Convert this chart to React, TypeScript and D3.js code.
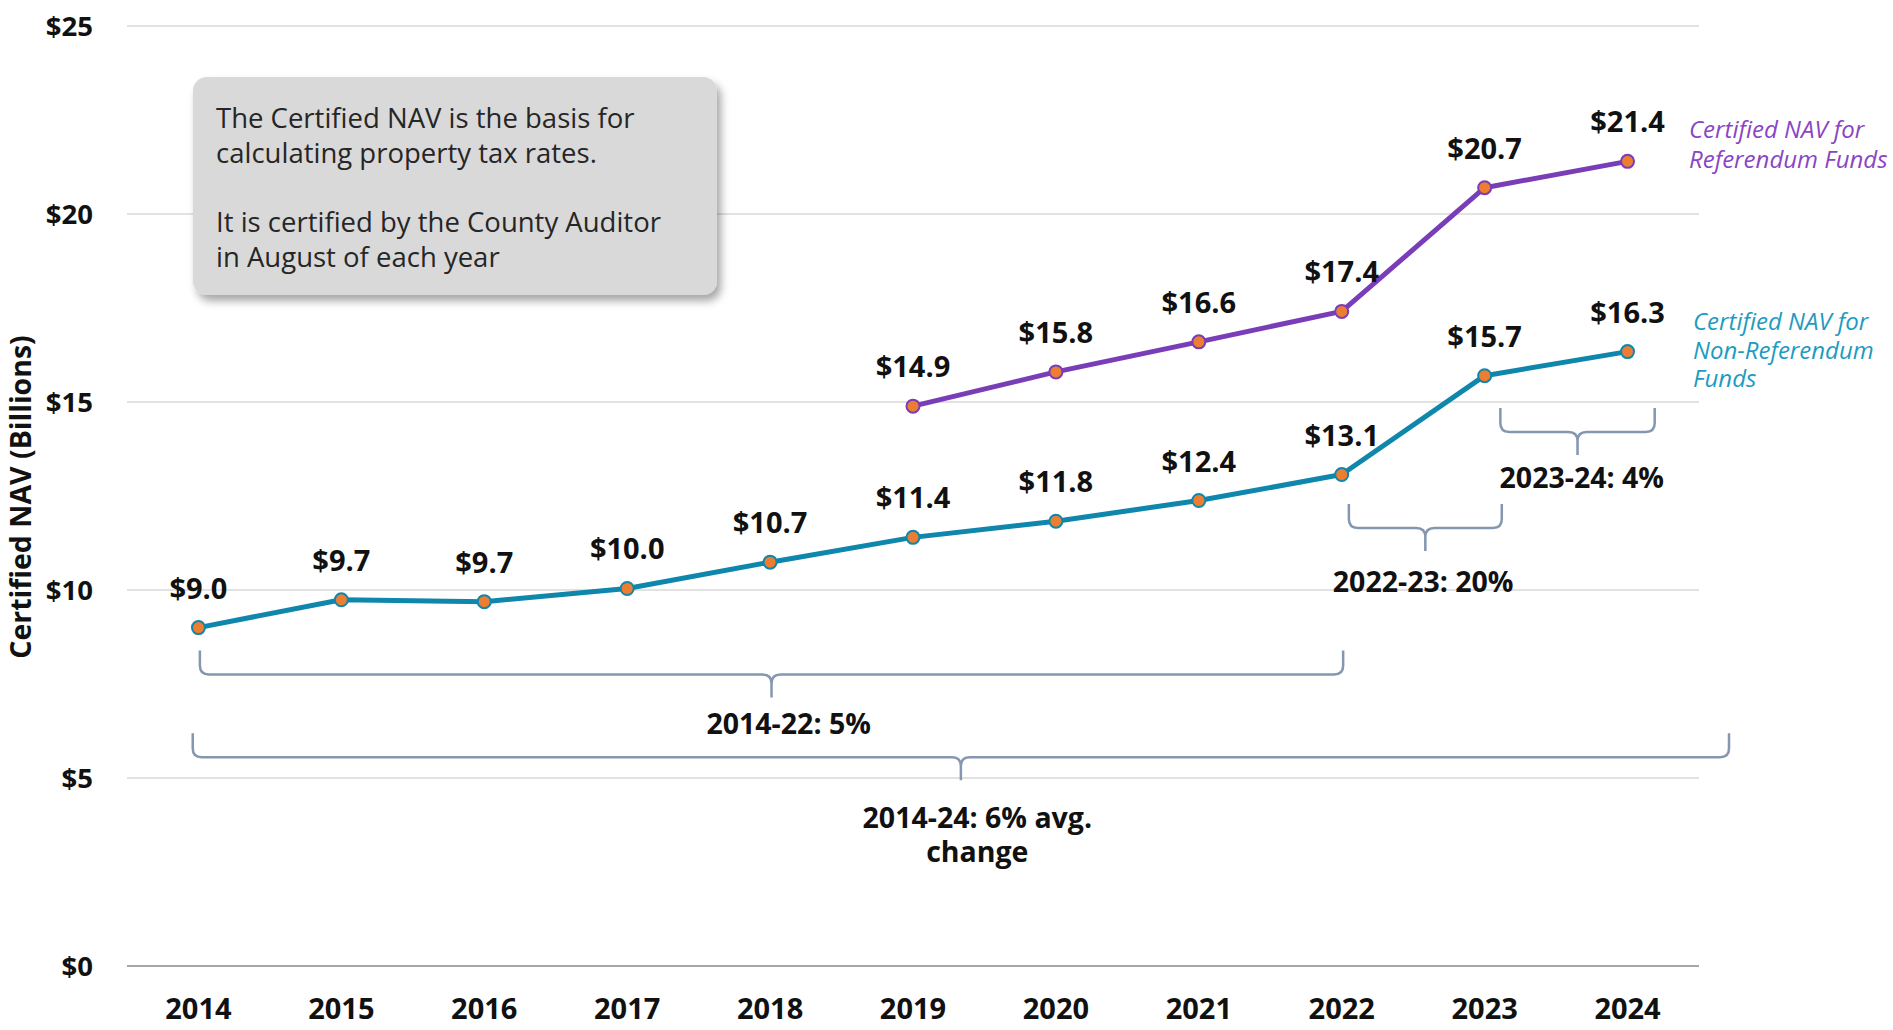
import React from 'react';
import * as d3 from 'd3';

// data (billions)
const years = [2014, 2015, 2016, 2017, 2018, 2019, 2020, 2021, 2022, 2023, 2024];
const nonReferendum = [9.0, 9.74, 9.69, 10.04, 10.74, 11.4, 11.83, 12.38, 13.07, 15.7, 16.34];
const referendumYears = [2019, 2020, 2021, 2022, 2023, 2024];
const referendum = [14.89, 15.8, 16.6, 17.41, 20.7, 21.4];
const yTicks = [0, 5, 10, 15, 20, 25];

const noteLines = [
  'The Certified NAV is the basis for',
  'calculating property tax rates.',
  '',
  'It is certified by the County Auditor',
  'in August of each year',
];
const referendumLabel = ['Certified NAV for', 'Referendum Funds'];
const nonReferendumLabel = ['Certified NAV for', 'Non-Referendum', 'Funds'];

// growth braces: span in years, level in $B, label centre in years
const brackets = [
  { from: 2014.01, to: 2022.01, level: 7.75, label: ['2014-22: 5%'], labelAt: 2018.13, dy: 59 },
  { from: 2013.96, to: 2024.71, level: 5.55, label: ['2014-24: 6% avg.', 'change'], labelAt: 2019.45, dy: 71 },
  { from: 2022.05, to: 2023.12, level: 11.65, label: ['2022-23: 20%'], labelAt: 2022.57, dy: 64 },
  { from: 2023.11, to: 2024.19, level: 14.2, label: ['2023-24: 4%'], labelAt: 2023.68, dy: 56 },
];

const W = 1893;
const H = 1030;
const TEAL = '#0f86ab';
const PURPLE = '#7a3db8';
const ORANGE = '#ed7d31';
const FONT = '"Open Sans", "Noto Sans", sans-serif';

const x = d3.scaleLinear().domain([2013.5, 2024.5]).range([127, 1699]);
const y = d3.scaleLinear().domain([0, 25]).range([966, 26]);

const line = d3.line<[number, number]>()
  .x((d) => x(d[0]))
  .y((d) => y(d[1]));

function bracePath(x0: number, x1: number, ly: number) {
  const hook = 24;
  const tip = 23;
  const r = 9;
  const mid = (x0 + x1) / 2;
  return [
    `M${x0},${ly - hook}`,
    `L${x0},${ly - r}`,
    `Q${x0},${ly} ${x0 + r},${ly}`,
    `L${mid - r},${ly}`,
    `Q${mid},${ly} ${mid},${ly + r}`,
    `L${mid},${ly + tip}`,
    `M${mid},${ly + r}`,
    `Q${mid},${ly} ${mid + r},${ly}`,
    `L${x1 - r},${ly}`,
    `Q${x1},${ly} ${x1},${ly - r}`,
    `L${x1},${ly - hook}`,
  ].join(' ');
}

function Series({ xs, vals, color }: { xs: number[]; vals: number[]; color: string }) {
  const pts = xs.map((yr, i) => [yr, vals[i]] as [number, number]);
  return (
    <g>
      <path d={line(pts) || ''} fill="none" stroke={color} strokeWidth={5} strokeLinejoin="round" />
      {pts.map((p, i) => (
        <circle key={i} cx={x(p[0])} cy={y(p[1])} r={6.5} fill={ORANGE} stroke={color} strokeWidth={2} />
      ))}
      {pts.map((p, i) => (
        <text key={'t' + i} x={x(p[0])} y={y(p[1]) - 29} textAnchor="middle"
          fontFamily={FONT} fontWeight={700} fontSize={29} fill="#111">
          {'$' + p[1].toFixed(1)}
        </text>
      ))}
    </g>
  );
}

export default function App() {
  return (
    <svg width={W} height={H} style={{ position: 'absolute', left: 0, top: 0, background: '#fff' }}>
      <defs>
        <filter id="shadow" x="-10%" y="-10%" width="130%" height="140%">
          <feDropShadow dx={4} dy={6} stdDeviation={4} floodColor="#000" floodOpacity={0.35} />
        </filter>
      </defs>

      {/* grid */}
      {yTicks.map((t) => (
        <g key={t}>
          <line x1={x.range()[0]} x2={x.range()[1]} y1={y(t)} y2={y(t)}
            stroke={t === 0 ? '#a6a6a6' : '#d9d9d9'} strokeWidth={t === 0 ? 2 : 1.5} />
          <text x={93} y={y(t)} dy="0.35em" textAnchor="end" fontFamily={FONT}
            fontWeight={700} fontSize={27.5} fill="#111">{'$' + t}</text>
        </g>
      ))}

      {years.map((yr) => (
        <text key={yr} x={x(yr)} y={1019} textAnchor="middle" fontFamily={FONT}
          fontWeight={700} fontSize={29} fill="#111">{yr}</text>
      ))}

      <text transform="translate(31,497) rotate(-90)" textAnchor="middle" fontFamily={FONT}
        fontWeight={700} fontSize={28.5} fill="#111">Certified NAV (Billions)</text>

      {/* note box */}
      <rect x={193} y={77} width={524} height={218} rx={14} fill="#d9d9d9" filter="url(#shadow)" />
      {noteLines.map((l, i) => (
        <text key={i} x={216} y={128 + i * 34.75} fontFamily={FONT} fontSize={27.5} fill="#262626">{l}</text>
      ))}

      {/* brackets */}
      {brackets.map((b, i) => (
        <g key={i}>
          <path d={bracePath(x(b.from), x(b.to), y(b.level))} fill="none" stroke="#8496b0" strokeWidth={2.5} />
          {b.label.map((l, j) => (
            <text key={j} x={x(b.labelAt)} y={y(b.level) + b.dy + j * 34}
              textAnchor="middle" fontFamily={FONT} fontWeight={700} fontSize={28.5} fill="#111">{l}</text>
          ))}
        </g>
      ))}

      <Series xs={years} vals={nonReferendum} color={TEAL} />
      <Series xs={referendumYears} vals={referendum} color={PURPLE} />

      {referendumLabel.map((l, i) => (
        <text key={i} x={1689} y={138 + i * 30} fontFamily={FONT} fontStyle="italic" fontSize={24} fill="#8a45c6">{l}</text>
      ))}
      {nonReferendumLabel.map((l, i) => (
        <text key={i} x={1693} y={330 + i * 28.5} fontFamily={FONT} fontStyle="italic" fontSize={24} fill="#1e9bc0">{l}</text>
      ))}
    </svg>
  );
}
